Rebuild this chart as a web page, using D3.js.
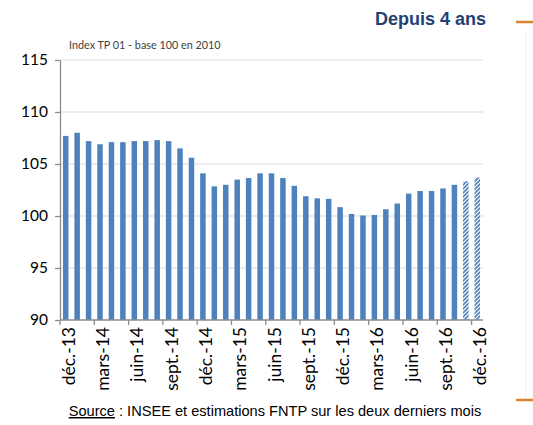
<!DOCTYPE html>
<html>
<head>
<meta charset="utf-8">
<script src="https://cdn.jsdelivr.net/npm/d3@7"></script>
<style>
  html, body { margin: 0; padding: 0; background: #ffffff; }
  svg { display: block; }
</style>
</head>
<body>
<svg id="chart" width="533" height="425"></svg>
<script>
// Monthly TP01 index, déc. 2013 – déc. 2016 (last two months are estimates)
const months = [
  "déc.-13","janv.-14","févr.-14","mars-14","avr.-14","mai-14","juin-14","juil.-14","août-14",
  "sept.-14","oct.-14","nov.-14","déc.-14","janv.-15","févr.-15","mars-15","avr.-15","mai-15",
  "juin-15","juil.-15","août-15","sept.-15","oct.-15","nov.-15","déc.-15","janv.-16","févr.-16",
  "mars-16","avr.-16","mai-16","juin-16","juil.-16","août-16","sept.-16","oct.-16","nov.-16","déc.-16"
];
const indexValues = [
  107.7, 108.0, 107.2, 106.9, 107.1, 107.1, 107.2, 107.2, 107.3,
  107.2, 106.5, 105.6, 104.1, 102.85, 103.0, 103.5, 103.65, 104.1,
  104.1, 103.65, 102.9, 101.9, 101.7, 101.65, 100.85, 100.2, 100.05,
  100.1, 100.65, 101.2, 102.15, 102.4, 102.4, 102.65, 103.0, 103.35, 103.7
];
const estimated = ["nov.-16", "déc.-16"];
const yTicks = [90, 95, 100, 105, 110, 115];
const xTickLabels = ["déc.-13","mars-14","juin-14","sept.-14","déc.-14","mars-15","juin-15",
  "sept.-15","déc.-15","mars-16","juin-16","sept.-16","déc.-16"];

const svg = d3.select("#chart");
const plotLeft = 60, plotRight = 483, plotTop = 60, plotBottom = 320;

const x = d3.scaleBand().domain(months).range([plotLeft, plotRight]).paddingInner(0.52).paddingOuter(0.26);
const y = d3.scaleLinear().domain([90, 115]).range([plotBottom, plotTop]);

const blue = "#4f81bd";
const axisGrey = "#8c8c8c";
const labelFont = "Lato, 'Open Sans', sans-serif";

// hatch pattern for estimated months
const defs = svg.append("defs");
const pat = defs.append("pattern")
  .attr("id", "hatch").attr("patternUnits", "userSpaceOnUse")
  .attr("width", 4).attr("height", 4);
pat.append("rect").attr("width", 4).attr("height", 4).attr("fill", "#ffffff");
pat.append("path").attr("d", "M-1,5 L5,-1 M-1,1 L1,-1 M3,5 L5,3")
  .attr("stroke", blue).attr("stroke-width", 1.6);

// horizontal gridlines
svg.append("g").selectAll("line").data(yTicks.filter(d => d > 90)).join("line")
  .attr("x1", plotLeft).attr("x2", plotRight)
  .attr("y1", d => y(d)).attr("y2", d => y(d))
  .attr("stroke", "#d9d9d9").attr("stroke-width", 1);

// bars
svg.append("g").selectAll("rect").data(months).join("rect")
  .attr("x", d => x(d))
  .attr("width", x.bandwidth())
  .attr("y", (d, i) => y(indexValues[i]))
  .attr("height", (d, i) => y(90) - y(indexValues[i]))
  .attr("fill", d => estimated.includes(d) ? "url(#hatch)" : blue);

// y axis
const yAxis = svg.append("g").attr("transform", `translate(${plotLeft},0)`)
  .call(d3.axisLeft(y).tickValues(yTicks).tickSize(5).tickSizeOuter(0).tickPadding(7));
yAxis.select(".domain").attr("stroke", axisGrey).attr("stroke-width", 1.3);
yAxis.selectAll(".tick line").attr("stroke", axisGrey).attr("stroke-width", 1.3);
yAxis.selectAll(".tick text")
  .attr("font-family", labelFont).attr("font-size", 15.5)
  .attr("fill", "#000");

// x axis: ticks on band boundaries every three months
const gapHalf = (x.step() - x.bandwidth()) / 2;
const xLine = svg.append("g");
xLine.append("line").attr("x1", plotLeft).attr("x2", plotRight)
  .attr("y1", plotBottom).attr("y2", plotBottom)
  .attr("stroke", axisGrey).attr("stroke-width", 1.3);
xLine.selectAll("line.tk").data(xTickLabels).join("line").attr("class", "tk")
  .attr("x1", d => x(d) - gapHalf)
  .attr("x2", d => x(d) - gapHalf)
  .attr("y1", plotBottom).attr("y2", plotBottom + 5)
  .attr("stroke", axisGrey).attr("stroke-width", 1.3);

svg.append("g").selectAll("text").data(xTickLabels).join("text")
  .attr("transform", d => `translate(${x(d) + x.bandwidth() / 2 + 9},${plotBottom + 7}) rotate(-90)`)
  .attr("text-anchor", "end")
  .attr("font-family", labelFont).attr("font-size", 17.5)
  .attr("fill", "#000")
  .text(d => d);

// chart annotation
svg.append("text").attr("x", 69).attr("y", 49)
  .attr("font-family", labelFont).attr("font-size", 10.8)
  .attr("fill", "#404040")
  .text("Index TP 01 - base 100 en 2010");

// heading
svg.append("text").attr("x", 486).attr("y", 25).attr("text-anchor", "end")
  .attr("font-family", "'Liberation Sans', Arial, sans-serif").attr("font-size", 18)
  .attr("font-weight", "bold").attr("fill", "#1f4272")
  .text("Depuis 4 ans");

// orange side markers and faint frame line
svg.append("line").attr("x1", 526).attr("x2", 526).attr("y1", 30).attr("y2", 400)
  .attr("stroke", "#f2f2f2").attr("stroke-width", 1);
[22, 400].forEach(yy => {
  svg.append("line").attr("x1", 516).attr("x2", 533).attr("y1", yy).attr("y2", yy)
    .attr("stroke", "#d7852f").attr("stroke-width", 2.5);
});

// source line
const src = svg.append("text").attr("x", 275).attr("y", 416).attr("text-anchor", "middle")
  .attr("font-family", "'Liberation Sans', Arial, sans-serif").attr("font-size", 14.6)
  .attr("fill", "#000");
src.append("tspan").attr("text-decoration", "underline").text("Source");
src.append("tspan").text(" : INSEE et estimations FNTP sur les deux derniers mois");
</script>
</body>
</html>
